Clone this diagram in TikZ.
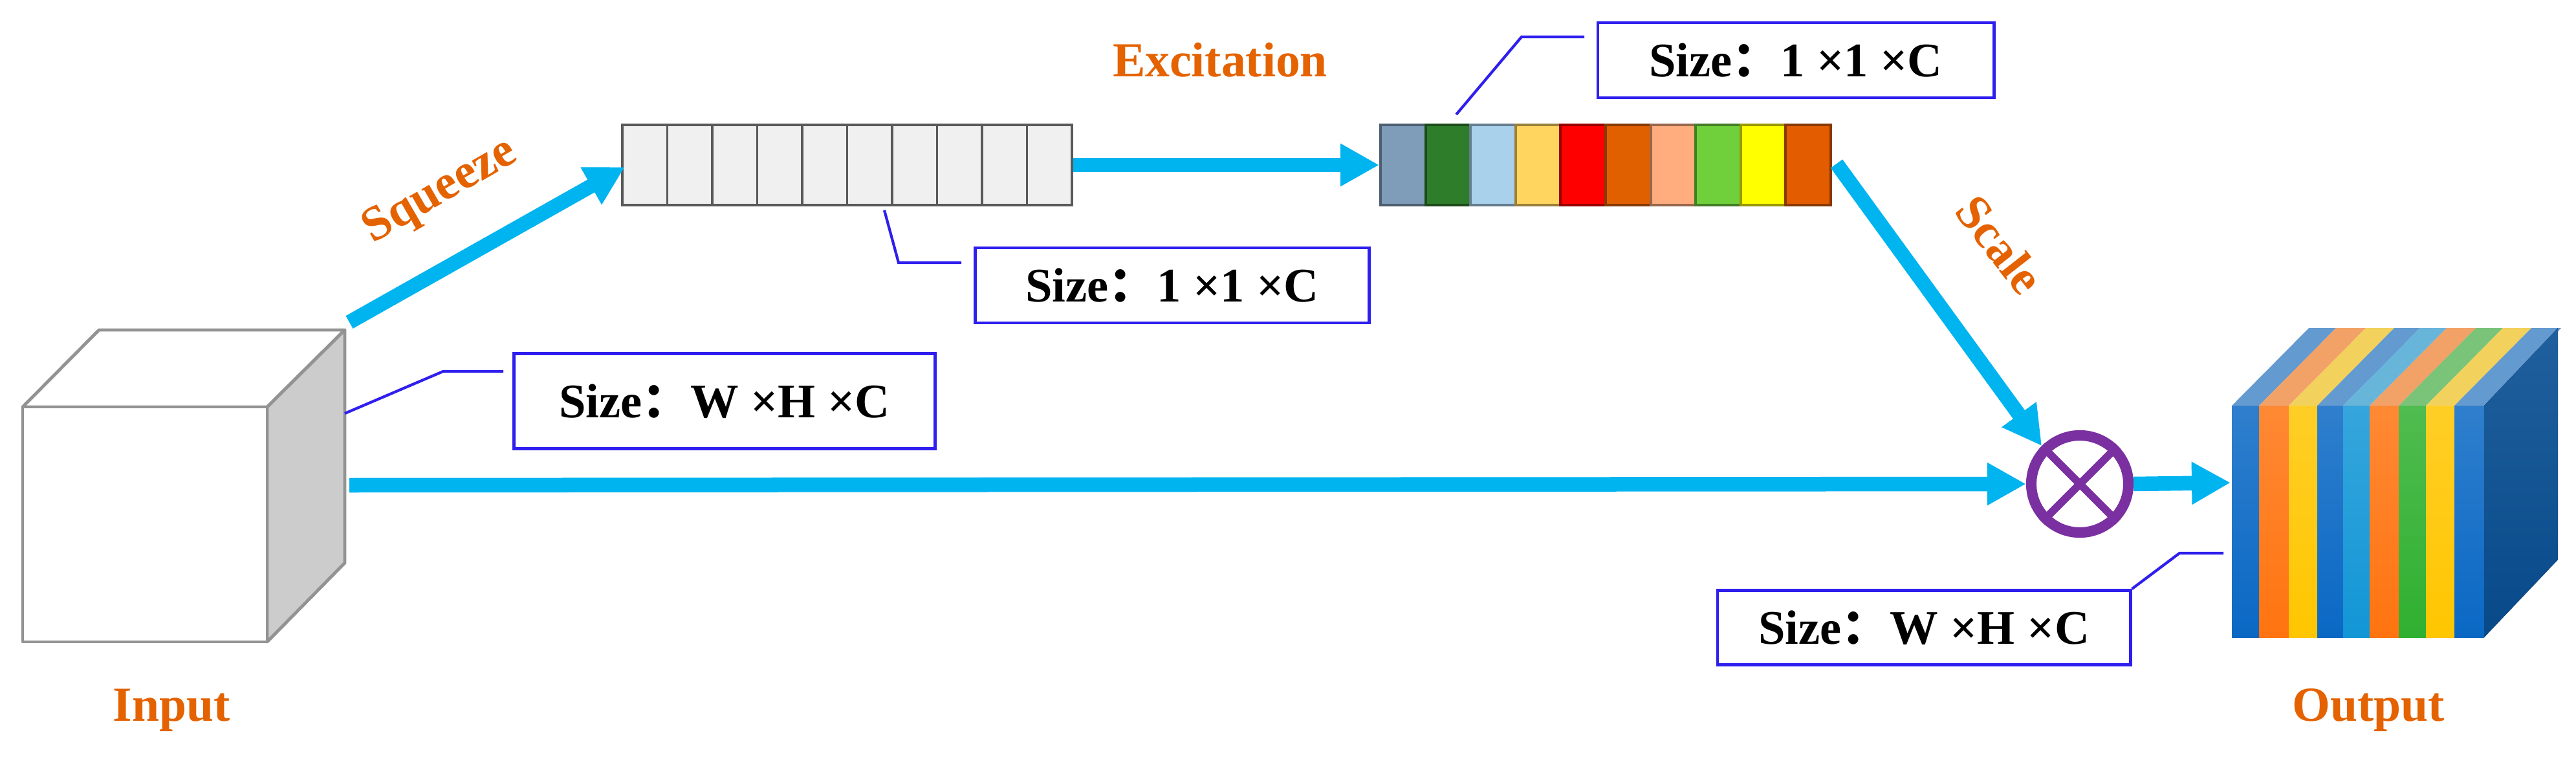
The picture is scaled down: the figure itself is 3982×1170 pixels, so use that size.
\documentclass[tikz,border=0pt]{standalone}
\usepackage{fontspec}
\setmainfont{Liberation Serif}
\newfontfamily\cjk{Noto Sans CJK SC}
\usetikzlibrary{arrows.meta}
\definecolor{flowblue}{HTML}{00B4F0}
\definecolor{tagblue}{HTML}{2F1FEE}
\definecolor{labelorange}{HTML}{E46200}
\definecolor{multpurple}{HTML}{7A30A0}
\definecolor{outblue}{HTML}{0A68C4}
\definecolor{outsky}{HTML}{1296D6}
\definecolor{outorange}{HTML}{FF7410}
\definecolor{outyellow}{HTML}{FFC600}
\definecolor{outgreen}{HTML}{30B030}
\tikzset{
    flow/.style = {draw=flowblue, line width=6.4pt, -{Triangle[length=.6cm,width=.62cm]}},
    tag/.style = {draw=tagblue, line width=1.3pt, fill=white, inner sep=0pt, font=\fontsize{21.2pt}{24pt}\bfseries},
    leader/.style = {draw=tagblue, line width=1.2pt},
    title/.style = {text=labelorange, font=\fontsize{21.5pt}{24pt}\bfseries},
    cube/.style = {draw=gray!85, line width=1.4pt, line join=round},
    sqcell/.style = {draw=black!65, line width=1.1pt, fill=black!6, inner sep=0pt, minimum width=.695cm, minimum height=1.24cm},
    colcell/.style = {draw=#1!60!black, line width=1.1pt, fill=#1, inner sep=0pt, minimum width=.696cm, minimum height=1.24cm}
}
\begin{document}
\begin{tikzpicture}[x=.01cm,y=-.01cm]
    \useasboundingbox (0,0) rectangle (3982,1170);

    % input block
    \draw[cube,fill=white] (35,629) -- (153,510) -- (533,510) -- (413,629) -- cycle;
    \draw[cube,fill=black!20] (413,629) -- (533,510) -- (533,870) -- (413,992) -- cycle;
    \draw[cube,fill=white] (35,629) rectangle (413,992);
    \node[title] (input) at (265,1098) {Input};

    % bars
    \foreach \i in {1,...,10} {
        \node[sqcell] (sq\i) at ({962+(\i-.5)*69.5},255) {};
    }
    \foreach \i/\c in {1/7F9DB9,2/2E7D2A,3/A9D1EC,4/FFD55F,5/FF0000,6/E06000,7/FFAC7F,8/6FD03C,9/FFFF00,10/E35D00} {
        \definecolor{cellcol}{HTML}{\c}
        \node[colcell=cellcol] (col\i) at ({2134+(\i-.5)*69.6},255) {};
    }

    % output block
    \foreach \xa/\xb/\c in {3450/3492/outblue,3492/3538/outorange,3538/3582/outyellow,3582/3622/outblue,3622/3663/outsky,3663/3708/outorange,3708/3750/outgreen,3750/3794/outyellow,3794/3840/outblue} {
        \fill[\c!65!white!90!gray] (\xa,627) -- (\xa+119,507) -- (\xb+119,507) -- (\xb,627) -- cycle;
        \fill[top color=\c!85!white, bottom color=\c] (\xa,627) rectangle (\xb,985);
    }
    \fill[top color=outblue!75!black!90!white, bottom color=outblue!70!black] (3840,627) -- (3954,507) -- (3954,865) -- (3840,985) -- cycle;
    \node[title] (output) at (3661,1098) {Output};

    % multiply
    \node[circle, draw=multpurple, line width=4.6pt, inner sep=0pt, minimum size=1.5cm] (mult) at (3215,748) {};
    \draw[multpurple, line width=3.4pt] (mult.north west) -- (mult.south east);
    \draw[multpurple, line width=3.4pt] (mult.north east) -- (mult.south west);

    % connectors
    \coordinate (sqstart) at (540,498);
    \coordinate (sqend) at (966,258);
    \coordinate (midstart) at (540,750);
    \coordinate (scalestart) at (2839,253);
    \coordinate (outfront) at (3448,746);
    \draw[flow] (sqstart) -- (sqend);
    \draw[flow] (sq10.east) -- (col1.west);
    \draw[flow] (midstart) -- (mult.west);
    \draw[flow] (scalestart) -- (mult.north west);
    \draw[flow] (mult.east) -- (outfront);

    % titles on the arrows
    \node[title, rotate=30] (squeeze) at (681,297) {Squeeze};
    \node[title] (excitation) at (1886,93) {Excitation};
    \node[title, rotate=-52] (scale) at (3092,378) {Scale};

    % size tags
    \node[tag, minimum width=6.51cm, minimum height=1.47cm] (sizein) at (1120,620) {Size{\cjk：}W ×H ×C};
    \node[tag, minimum width=6.09cm, minimum height=1.16cm] (sizesq) at (1812,441) {Size{\cjk：}1 ×1 ×C};
    \node[tag, minimum width=6.12cm, minimum height=1.16cm] (sizecol) at (2776,93) {Size{\cjk：}1 ×1 ×C};
    \node[tag, minimum width=6.38cm, minimum height=1.15cm] (sizeout) at (2974,970) {Size{\cjk：}W ×H ×C};

    \coordinate (inA) at (533,639);
    \coordinate (inB) at (685,574);
    \coordinate (inC) at (778,574);
    \coordinate (sqA) at (1367,325);
    \coordinate (sqB) at (1389,406);
    \coordinate (sqC) at (1486,406);
    \coordinate (colA) at (2251,177);
    \coordinate (colB) at (2352,57);
    \coordinate (colC) at (2449,57);
    \coordinate (outB) at (3369,855);
    \coordinate (outC) at (3437,855);
    \draw[leader] (inA) -- (inB) -- (inC);
    \draw[leader] (sqA) -- (sqB) -- (sqC);
    \draw[leader] (colA) -- (colB) -- (colC);
    \draw[leader] (sizeout.north east) -- (outB) -- (outC);
\end{tikzpicture}
\end{document}
